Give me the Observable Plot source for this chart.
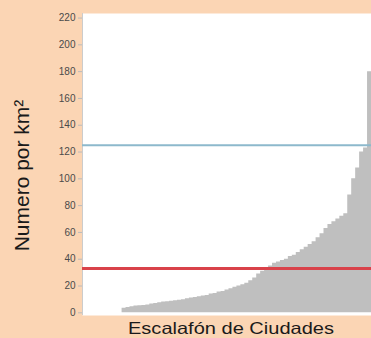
<!DOCTYPE html>
<html>
<head>
<meta charset="utf-8">
<script src="https://cdn.jsdelivr.net/npm/d3@7"></script>
<script src="https://cdn.jsdelivr.net/npm/@observablehq/plot@0.6"></script>
<style>
  html, body { margin: 0; padding: 0; background: #FBD5B4; overflow: hidden; }
</style>
</head>
<body>
<div id="chart"></div>
<script>
// Density per km² for each city, sorted (rank order)
const densities = [
  0, 0, 0, 0, 0, 0, 0, 0, 0, 0,
  3.5, 4, 4.5, 5, 5.2, 5.5, 5.8, 6.5, 7, 7.5,
  8, 8.3, 8.7, 9, 9.3, 9.8, 10.5, 11, 11.5, 12,
  12.5, 13, 14, 14.5, 15.5, 16, 17, 18, 19, 20,
  21, 22, 24, 26, 29, 31, 33, 35, 37, 38,
  39, 40, 42, 43, 45, 47, 49, 51, 53, 56,
  59, 63, 66, 68, 70, 72, 74, 88, 100, 108,
  120, 123, 180
];
const refLines = [125, 33];          // blue line, red line
const refColors = ["#8DB9CC", "#D9424A"];
const yTicks = [0, 20, 40, 60, 80, 100, 120, 140, 160, 180, 200, 220];
const yLabel = "Numero por km²";
const xLabel = "Escalafón de Ciudades";

const table = densities.map((v, i) => ({rank: i, v}));
table.push({rank: densities.length, v: densities[densities.length - 1]});
const lines = refLines.map((v, i) => ({v, c: refColors[i]}));

const chart = Plot.plot({
  width: 371,
  height: 338,
  marginTop: 13,
  marginBottom: 23,
  marginLeft: 82,
  marginRight: 0,
  style: {background: "#FBD5B4", fontFamily: "'Liberation Sans', Arial, sans-serif", fontSize: "10px", color: "#4a4a4a"},
  x: {domain: [0, densities.length], axis: null},
  y: {domain: [-2, 223.4], ticks: yTicks, tickSize: 4, tickPadding: 3, label: null},
  marks: [
    Plot.frame({fill: "white", stroke: null}),
    Plot.areaY(table, {x: "rank", y: "v", curve: "step-after", fill: "#BFBFBF"}),
    Plot.ruleX([0], {stroke: "#cccccc"}),
    Plot.ruleY(lines, {y: "v", stroke: "c", strokeWidth: (d) => d.v > 100 ? 2 : 3}),
    Plot.text([yLabel], {frameAnchor: "left", textAnchor: "middle", rotate: -90, dx: -60, dy: 11, fontSize: 21, fill: "#1a1a1a"}),
    Plot.text([xLabel], {frameAnchor: "bottom", dx: 4, dy: 13, fontSize: 16.5, fill: "#1a1a1a", lineAnchor: "middle"})
  ]
});
document.getElementById("chart").appendChild(chart);

// lighter tick marks, stretched text like the reference
d3.select(chart).selectAll('[aria-label^="y-axis"] path, [aria-label^="y-axis"] line').attr("stroke", "#bbbbbb");
d3.select(chart).selectAll("text").filter(function () { return this.textContent === xLabel; })
  .attr("textLength", 206).attr("lengthAdjust", "spacingAndGlyphs");
</script>
</body>
</html>
